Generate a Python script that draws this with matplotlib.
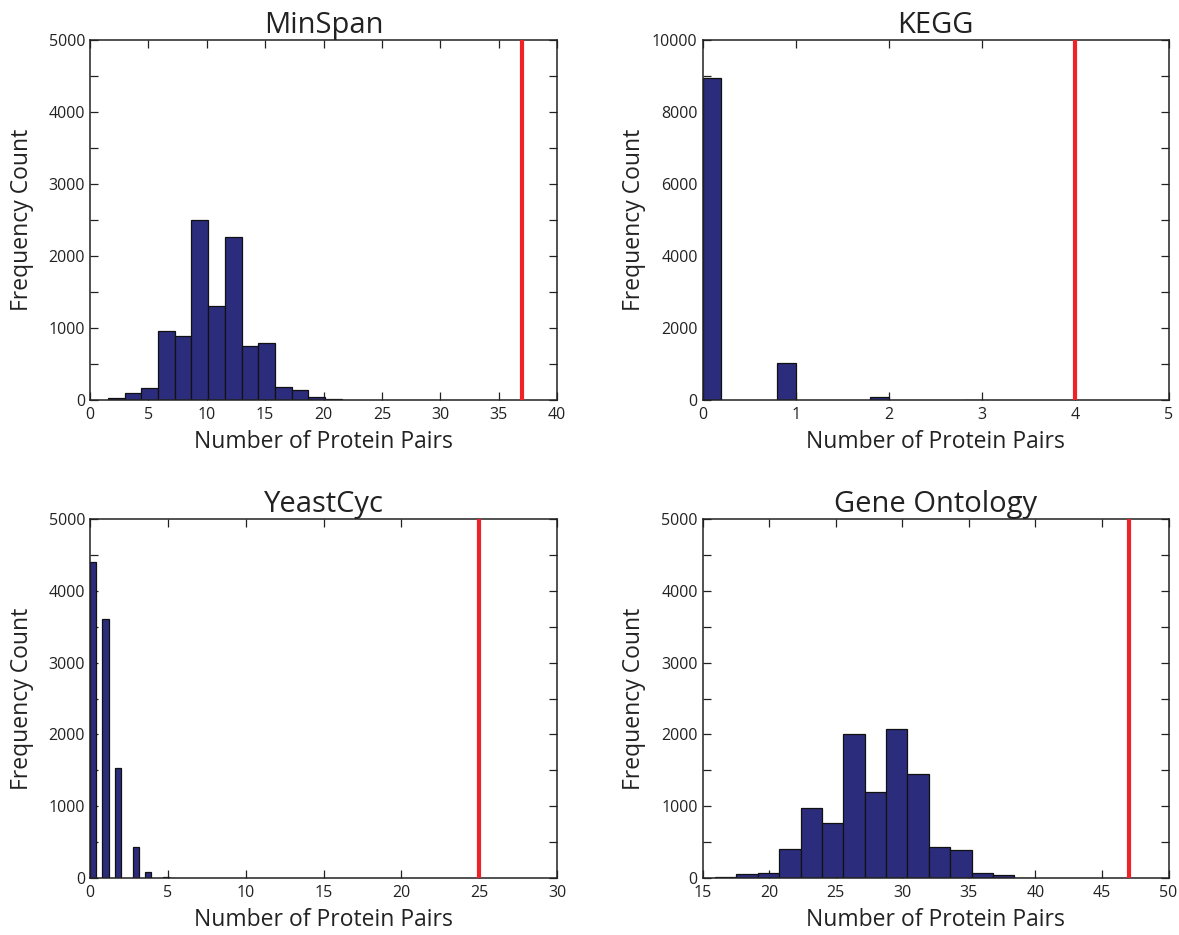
import matplotlib
matplotlib.use("Agg")
import matplotlib.pyplot as plt
from matplotlib.ticker import MultipleLocator

plt.rcParams['font.family'] = ['Open Sans', 'DejaVu Sans']

# ---- data ----
minspan_left = [1.54, 2.97, 4.40, 5.83, 7.26, 8.69, 10.12, 11.55, 12.98, 14.41, 15.84, 17.27, 18.70, 20.13]
minspan_counts = [23, 102, 162, 958, 893, 2500, 1301, 2259, 755, 787, 176, 144, 37, 18]
minspan_width = 1.43
minspan_obs = 37

kegg_left = [0.0, 0.8, 1.8, 2.8]
kegg_counts = [8935, 1019, 92, 3]
kegg_width = 0.2
kegg_obs = 4

yeast_left = [0.02, 0.80, 1.58, 2.75, 3.53, 4.70, 5.09]
yeast_counts = [4404, 3603, 1527, 437, 80, 12, 5]
yeast_width = 0.39
yeast_obs = 25

go_left = [15.95, 17.55, 19.16, 20.76, 22.37, 23.97, 25.58, 27.18, 28.79, 30.39, 32.0, 33.6, 35.21, 36.81, 38.42]
go_counts = [14, 51, 75, 404, 975, 766, 2001, 1203, 2080, 1454, 437, 395, 75, 47, 5]
go_width = 1.605
go_obs = 47

titles = ["MinSpan", "KEGG", "YeastCyc", "Gene Ontology"]

panels = [
    dict(title=titles[0], left=minspan_left, counts=minspan_counts, width=minspan_width, obs=minspan_obs,
         xlim=(0, 40), xstep=5, ylim=(0, 5000), ystep=1000),
    dict(title=titles[1], left=kegg_left, counts=kegg_counts, width=kegg_width, obs=kegg_obs,
         xlim=(0, 5), xstep=1, ylim=(0, 10000), ystep=2000),
    dict(title=titles[2], left=yeast_left, counts=yeast_counts, width=yeast_width, obs=yeast_obs,
         xlim=(0, 30), xstep=5, ylim=(0, 5000), ystep=1000),
    dict(title=titles[3], left=go_left, counts=go_counts, width=go_width, obs=go_obs,
         xlim=(15, 50), xstep=5, ylim=(0, 5000), ystep=1000),
]

W, H = 1179, 935
fig = plt.figure(figsize=(W / 100, H / 100), dpi=100)

boxes = [
    (90, 40, 557, 400),
    (702.5, 40, 1168.5, 400),
    (90, 519, 557, 878),
    (702.5, 519, 1168.5, 878),
]

bar_color = '#2B2C7C'
for p, (x0, y0, x1, y1) in zip(panels, boxes):
    ax = fig.add_axes([x0 / W, 1 - y1 / H, (x1 - x0) / W, (y1 - y0) / H])
    ax.bar(p['left'], p['counts'], width=p['width'], align='edge',
           color=bar_color, edgecolor='#111111', linewidth=0.9, zorder=2)
    ax.axvline(p['obs'], color='#EE2227', linewidth=3, zorder=3)
    ax.set_xlim(*p['xlim'])
    ax.set_ylim(*p['ylim'])
    ax.xaxis.set_major_locator(MultipleLocator(p['xstep']))
    ax.yaxis.set_major_locator(MultipleLocator(p['ystep']))
    ax.yaxis.set_minor_locator(MultipleLocator(p['ystep'] / 2))
    ax.tick_params(which='both', direction='in', top=True, right=True,
                   labelsize=11.5, width=0.9, colors='#222222')
    ax.tick_params(which='major', length=6)
    ax.tick_params(which='minor', length=6)
    ax.tick_params(axis='x', pad=5)
    for s in ax.spines.values():
        s.set_linewidth(1.1)
        s.set_color('#222222')
    ax.set_title(p['title'], fontsize=21, color='#222222', pad=5)
    ax.set_xlabel('Number of Protein Pairs', fontsize=16.5, color='#222222', labelpad=5)
    ax.set_ylabel('Frequency Count', fontsize=16.5, color='#222222')
    ax.yaxis.set_label_coords(-56 / (x1 - x0), 0.5)

fig.savefig('out.png', dpi=100)
